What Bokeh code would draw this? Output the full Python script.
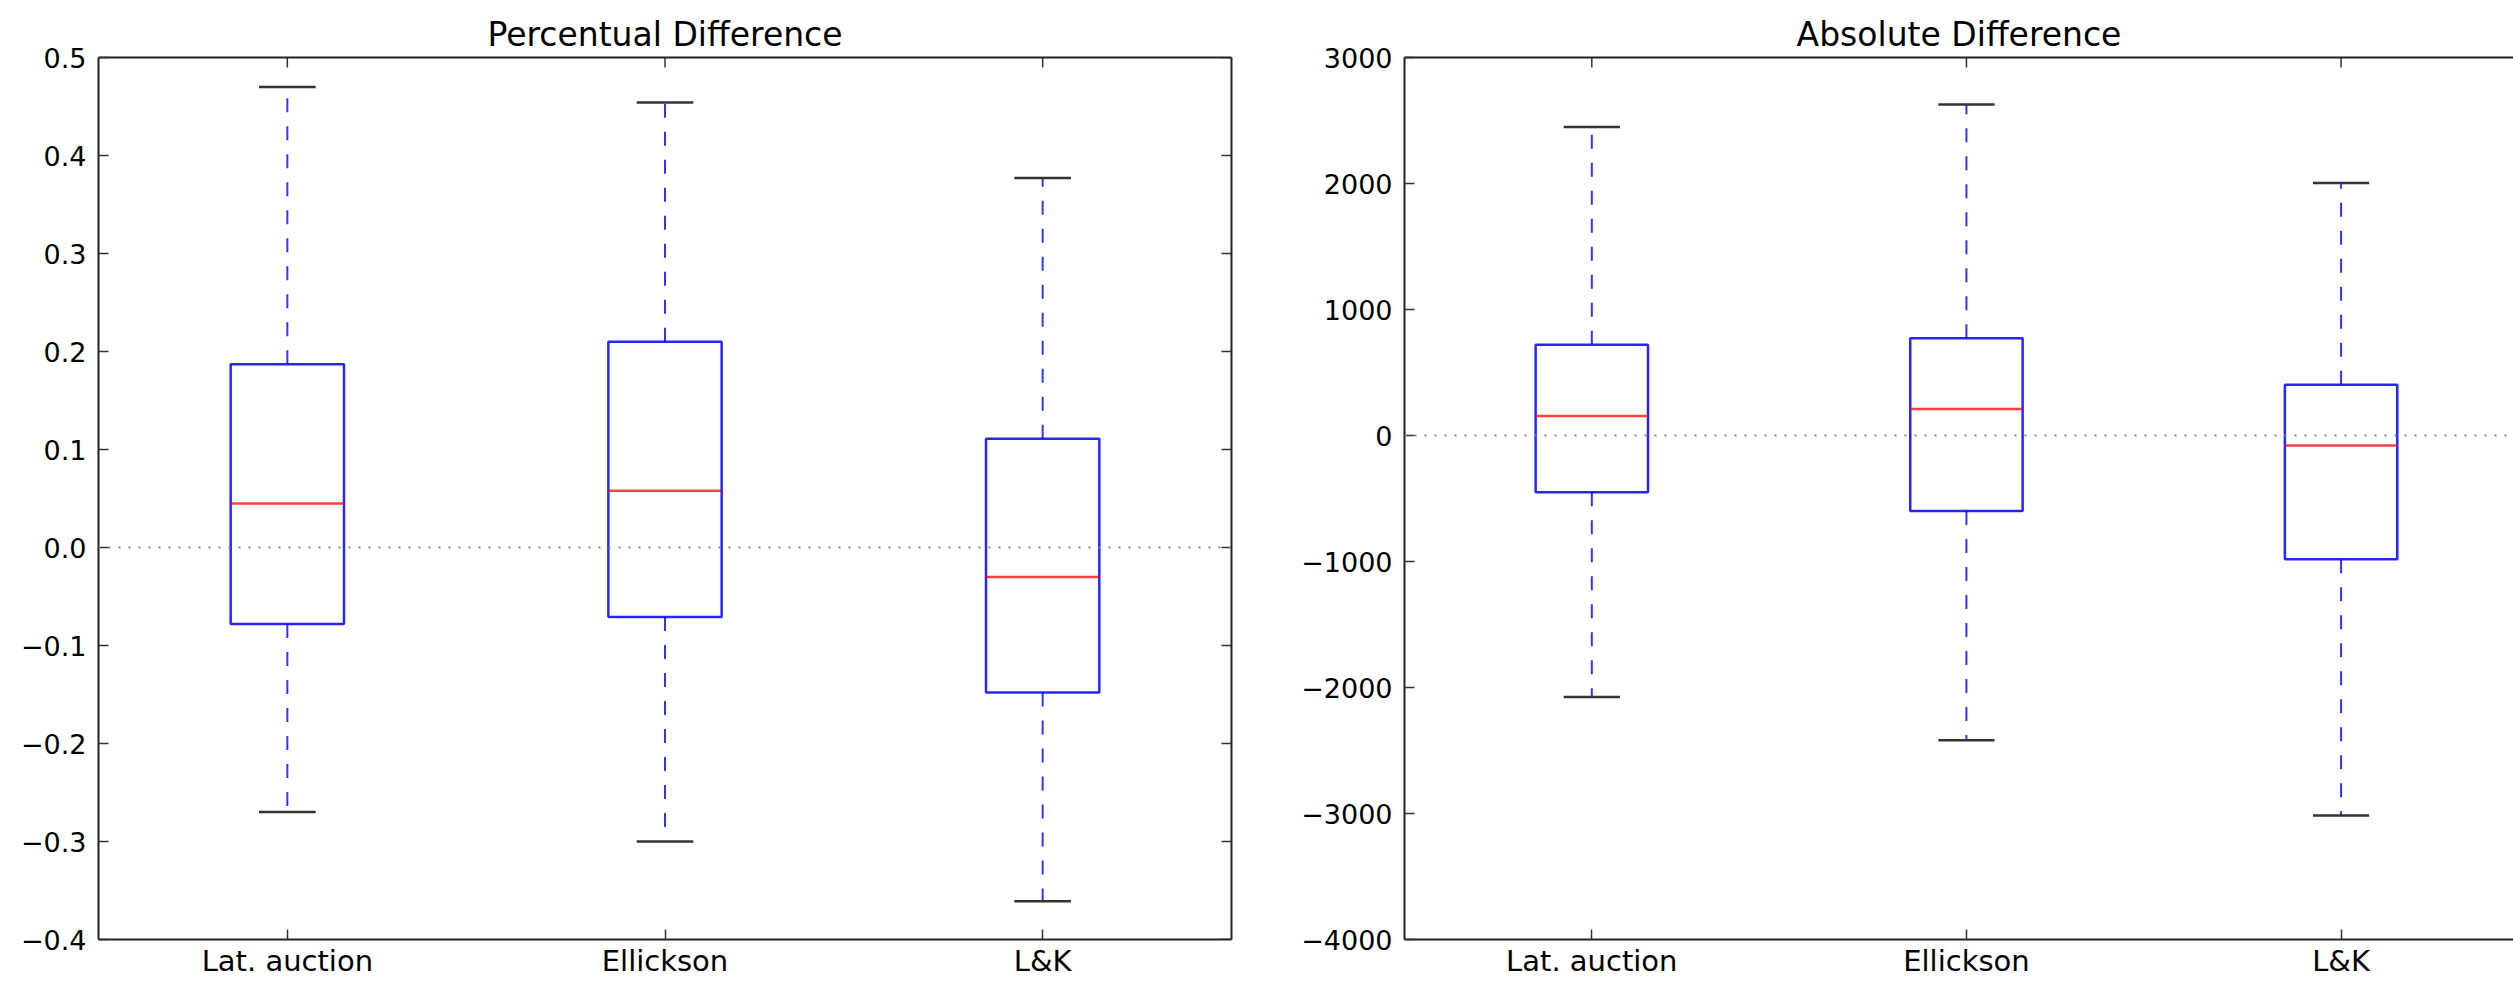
import math
from bokeh.plotting import figure
from bokeh.layouts import row
from bokeh.models import ColumnDataSource, LinearAxis, FixedTicker, Range1d, Span
from bokeh.embed import file_html
from bokeh.resources import INLINE

# ---- data ----
categories = ["Lat. auction", "Ellickson", "L&K"]
positions = [1, 2, 3]

pct_low = [-0.270, -0.300, -0.361]
pct_q1 = [-0.078, -0.071, -0.148]
pct_med = [0.045, 0.058, -0.030]
pct_q3 = [0.187, 0.210, 0.111]
pct_high = [0.470, 0.454, 0.377]
pct_ticks = [-0.4, -0.3, -0.2, -0.1, 0.0, 0.1, 0.2, 0.3, 0.4, 0.5]

abs_low = [-2075, -2418, -3015]
abs_q1 = [-450, -600, -982]
abs_med = [155, 210, -80]
abs_q3 = [720, 771, 403]
abs_high = [2448, 2626, 2004]
abs_ticks = [-4000, -3000, -2000, -1000, 0, 1000, 2000, 3000]

FONT = "DejaVu Sans"
Y_FS = "27px"
X_FS = "29px"
T_FS = "33px"
AX_COL = "#222222"
TICK_COL = "#333333"
BOX_W = 0.3
CAP_W = 0.15


def fmt_tick(v, decimals):
    s = f"{abs(v):.{decimals}f}"
    return ("\u2212" + s) if v < 0 else s


def style_axis(ax, ticks, labels, fs):
    ax.ticker = FixedTicker(ticks=ticks)
    if labels:
        ax.major_label_overrides = labels
    ax.axis_line_color = AX_COL
    ax.axis_line_width = 2
    ax.major_tick_line_color = TICK_COL
    ax.major_tick_line_width = 1.5
    ax.major_tick_in = 10
    ax.major_tick_out = 0
    ax.minor_tick_line_color = None
    ax.major_label_text_font = FONT
    ax.major_label_text_color = "black"
    ax.major_label_text_font_size = fs


def border_axis(p, side):
    ax = LinearAxis(ticker=FixedTicker(ticks=[]))
    ax.axis_line_color = AX_COL
    ax.axis_line_width = 2
    ax.major_tick_line_color = None
    ax.minor_tick_line_color = None
    p.add_layout(ax, side)


def make_panel(title, low, q1, med, q3, high, ticks, decimals, yr, width, border_left,
               border_right, xmax, right_axis):
    p = figure(width=width, height=980, output_backend="svg", toolbar_location=None,
               x_range=Range1d(0.5, xmax), y_range=Range1d(*yr),
               min_border_left=border_left, min_border_right=border_right,
               min_border_top=57, min_border_bottom=0,
               x_axis_location=None, y_axis_location=None)
    p.title.text = title
    p.title.text_font = FONT
    p.title.text_font_size = T_FS
    p.title.text_font_style = "normal"
    p.title.align = "center"
    p.title.text_color = "black"
    p.title.standoff = 8
    p.xgrid.visible = False
    p.ygrid.visible = False
    p.outline_line_color = None
    p.background_fill_color = "white"
    p.border_fill_color = "white"

    xlabels = {pos: c for pos, c in zip(positions, categories)}
    ylabels = {t: fmt_tick(t, decimals) for t in ticks}

    left = LinearAxis()
    style_axis(left, ticks, ylabels, Y_FS)
    left.major_label_standoff = 12
    p.add_layout(left, "left")

    below = LinearAxis()
    style_axis(below, positions, xlabels, X_FS)
    below.major_label_standoff = 4
    p.add_layout(below, "below")

    border_axis(p, "above")
    # inward ticks on the top border (clipped to the frame, half visible)
    p.scatter(x=positions, y=[yr[1]] * len(positions), marker="dash", size=20,
              angle=math.pi / 2, line_color=TICK_COL, line_width=1.5)
    if right_axis:
        border_axis(p, "right")
        p.scatter(x=[xmax] * len(ticks), y=ticks, marker="dash", size=20,
                  line_color=TICK_COL, line_width=1.5)

    p.add_layout(Span(location=0, dimension="width", line_color="#888888",
                      line_dash="2 8", line_width=2))

    src = ColumnDataSource(dict(
        x=positions, low=low, q1=q1, med=med, q3=q3, high=high,
        bl=[x - BOX_W / 2 for x in positions], br=[x + BOX_W / 2 for x in positions],
        cl=[x - CAP_W / 2 for x in positions], cr=[x + CAP_W / 2 for x in positions],
    ))
    # whiskers
    p.segment(x0="x", y0="q3", x1="x", y1="high", source=src, line_color="#0000ff",
              line_width=2, line_dash="14 14", line_alpha=0.8)
    p.segment(x0="x", y0="q1", x1="x", y1="low", source=src, line_color="#0000ff",
              line_width=2, line_dash="14 14", line_alpha=0.8)
    # caps
    p.segment(x0="cl", y0="high", x1="cr", y1="high", source=src, line_color="#333333",
              line_width=2.5)
    p.segment(x0="cl", y0="low", x1="cr", y1="low", source=src, line_color="#333333",
              line_width=2.5)
    # boxes
    p.quad(left="bl", right="br", bottom="q1", top="q3", source=src, fill_color=None,
           line_color="#0000ff", line_width=2.5, line_alpha=0.85)
    # medians
    p.segment(x0="bl", y0="med", x1="br", y1="med", source=src, line_color="#ff0000",
              line_width=2.5, line_alpha=0.75)
    return p


unit = 1133 / 3.0
W1 = 1298
p1 = make_panel("Percentual Difference", pct_low, pct_q1, pct_med, pct_q3, pct_high,
                pct_ticks, 1, (-0.4, 0.5), W1, 98, 67, 3.5, True)
w2 = 2513 - W1
frame2 = w2 - 97
p2 = make_panel("Absolute Difference", abs_low, abs_q1, abs_med, abs_q3, abs_high,
                abs_ticks, 0, (-4000, 3000), w2, 97, 0, 0.5 + frame2 / unit, False)

layout = row(p1, p2)
open("out.html", "w").write(file_html(layout, INLINE))
